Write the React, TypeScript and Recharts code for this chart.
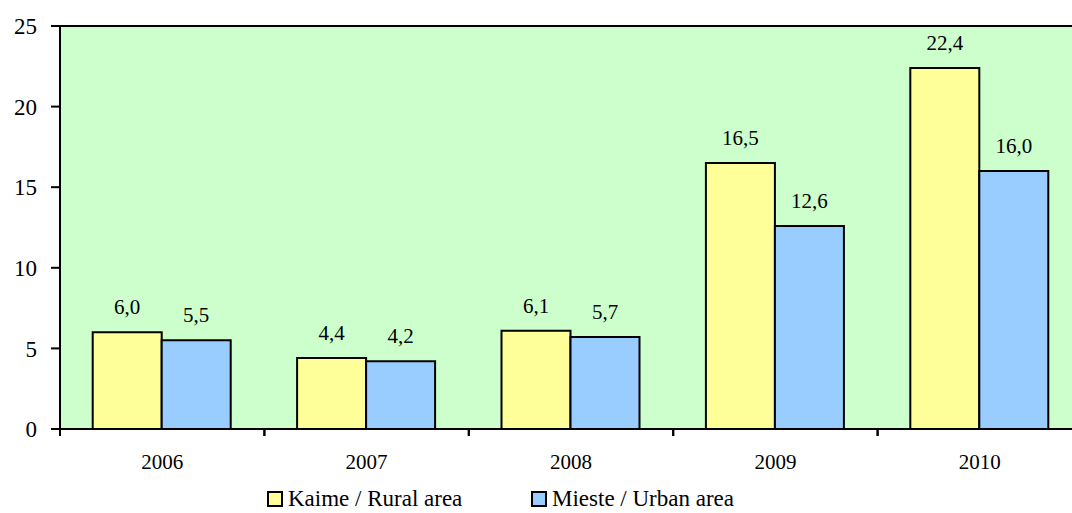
import React from "react";
import {
  BarChart,
  Bar,
  XAxis,
  YAxis,
  CartesianGrid,
  LabelList,
  ReferenceLine,
} from "recharts";

const years = ["2006", "2007", "2008", "2009", "2010"];
const rural = [6.0, 4.4, 6.1, 16.5, 22.4];
const urban = [5.5, 4.2, 5.7, 12.6, 16.0];
const yTicks = [0, 5, 10, 15, 20, 25];

const ruralLabel = "Kaime / Rural area";
const urbanLabel = "Mieste / Urban area";

const data = years.map((year, i) => ({ year, rural: rural[i], urban: urban[i] }));

const FONT = "Liberation Serif";
const X_TICK_SIZE = 7;
const X_TICK_MARGIN = 19;

const fmt = (v: unknown) => Number(v).toFixed(1).replace(".", ",");

function YearTick(props: any) {
  const { x, y, payload } = props;
  const axisY = y - X_TICK_MARGIN - X_TICK_SIZE;
  const half = payload.offset || 0;
  return (
    <g>
      <line x1={x - half} x2={x - half} y1={axisY} y2={axisY + X_TICK_SIZE} stroke="#000" strokeWidth={2} />
      <line x1={x + half} x2={x + half} y1={axisY} y2={axisY + X_TICK_SIZE} stroke="#000" strokeWidth={2} />
      <text x={x} y={y + 14} textAnchor="middle" fontSize={21} fontFamily={FONT} fill="#000">
        {payload.value}
      </text>
    </g>
  );
}

function LegendBox({ color, label, left }: { color: string; label: string; left: number }) {
  return (
    <div
      style={{
        position: "absolute",
        left,
        top: 488,
        display: "flex",
        alignItems: "center",
        height: 22,
        fontFamily: FONT,
        fontSize: 23,
        lineHeight: "22px",
        whiteSpace: "nowrap",
      }}
    >
      <span
        style={{
          display: "inline-block",
          width: 12,
          height: 12,
          border: "2px solid #000",
          background: color,
          marginRight: 5,
        }}
      />
      <span>{label}</span>
    </div>
  );
}

export default function App() {
  return (
    <div
      style={{
        position: "absolute",
        left: 0,
        top: 0,
        width: 1072,
        height: 513,
        overflow: "hidden",
        background: "#fff",
      }}
    >
      <BarChart
        width={1100}
        height={513}
        data={data}
        margin={{ top: 26, right: 18, left: 0, bottom: 44 }}
        barCategoryGap="16%"
        barGap={0}
      >
        <CartesianGrid fill="#CCFFCC" horizontal={false} vertical={false} />
        <XAxis
          dataKey="year"
          height={40}
          tickLine={false}
          tickSize={X_TICK_SIZE}
          tickMargin={X_TICK_MARGIN}
          axisLine={{ stroke: "#000", strokeWidth: 2 }}
          tick={<YearTick />}
          interval={0}
        />
        <YAxis
          width={60}
          domain={[0, 25]}
          ticks={yTicks}
          tickSize={9}
          tickMargin={14}
          axisLine={{ stroke: "#000", strokeWidth: 2 }}
          tickLine={{ stroke: "#000", strokeWidth: 2 }}
          tick={{ fill: "#000", fontSize: 23, fontFamily: FONT }}
        />
        <ReferenceLine y={25} stroke="#000" strokeWidth={2} />
        <Bar dataKey="rural" name={ruralLabel} fill="#FFFF99" stroke="#000" strokeWidth={2} isAnimationActive={false}>
          <LabelList dataKey="rural" position="top" offset={18} formatter={fmt} fill="#000" fontSize={21} fontFamily={FONT} />
        </Bar>
        <Bar dataKey="urban" name={urbanLabel} fill="#99CCFF" stroke="#000" strokeWidth={2} isAnimationActive={false}>
          <LabelList dataKey="urban" position="top" offset={18} formatter={fmt} fill="#000" fontSize={21} fontFamily={FONT} />
        </Bar>
      </BarChart>
      <LegendBox color="#FFFF99" label={ruralLabel} left={267} />
      <LegendBox color="#99CCFF" label={urbanLabel} left={531} />
    </div>
  );
}
